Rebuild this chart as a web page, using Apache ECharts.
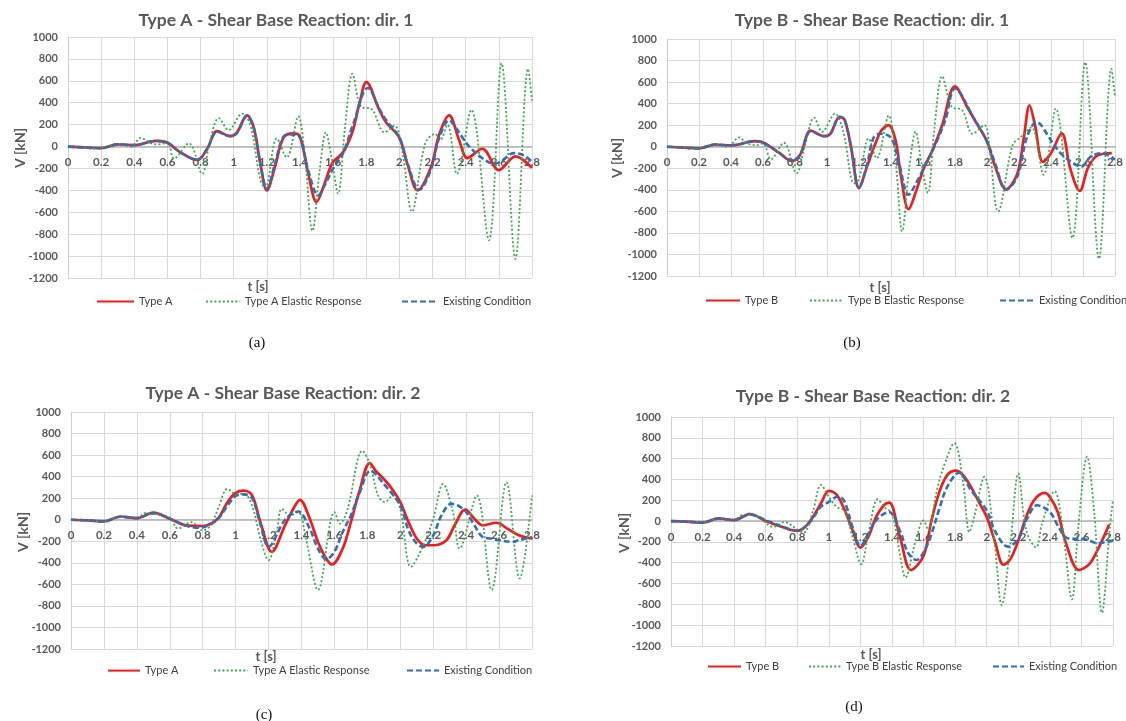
<!DOCTYPE html>
<html>
<head>
<meta charset="utf-8">
<script src="https://cdn.jsdelivr.net/npm/echarts@6/dist/echarts.min.js"></script>
<style>
html,body{margin:0;padding:0;background:#fff;}
#chart{width:1126px;height:721px;}
</style>
</head>
<body>
<div id="chart"></div>
<script>
// ---------- DATA (t [s], V [kN]) ----------
const titles = [
  'Type A - Shear Base Reaction: dir. 1',
  'Type B - Shear Base Reaction: dir. 1',
  'Type A - Shear Base Reaction: dir. 2',
  'Type B - Shear Base Reaction: dir. 2'
];
const captions = ['(a)', '(b)', '(c)', '(d)'];
const seriesNamesA = ['Type A', 'Type A Elastic Response', 'Existing Condition'];
const seriesNamesB = ['Type B', 'Type B Elastic Response', 'Existing Condition'];
const yTicks = {min: -1200, max: 1000, step: 200};
const xTicks = {min: 0, max: 2.8, step: 0.2};

const aRed = [[0,0],[0.1,-8],[0.2,-15],[0.3,20],[0.4,13],[0.53,52],[0.6,35],[0.68,-55],[0.78,-125],[0.84,-20],[0.9,140],[0.98,95],[1.02,130],[1.08,285],[1.12,180],[1.16,-150],[1.2,-400],[1.25,-180],[1.3,80],[1.36,120],[1.4,90],[1.45,-250],[1.5,-505],[1.55,-330],[1.58,-200],[1.6,-140],[1.65,-70],[1.68,0],[1.72,150],[1.76,400],[1.8,588],[1.88,330],[1.92,220],[2.0,80],[2.05,-170],[2.11,-400],[2.19,-190],[2.24,110],[2.3,285],[2.36,60],[2.41,-105],[2.5,-20],[2.6,-215],[2.7,-90],[2.8,-195]];
const aGreen = [[0,0],[0.08,-5],[0.15,-20],[0.22,-5],[0.3,25],[0.38,0],[0.44,80],[0.5,30],[0.55,20],[0.6,40],[0.64,-110],[0.73,30],[0.81,-250],[0.85,0],[0.91,260],[0.97,150],[1.05,300],[1.1,200],[1.16,-300],[1.19,-380],[1.26,75],[1.32,-100],[1.39,275],[1.43,-100],[1.475,-770],[1.52,-200],[1.556,130],[1.59,-100],[1.63,-430],[1.67,150],[1.717,665],[1.77,360],[1.83,345],[1.91,130],[1.97,190],[2.02,-70],[2.075,-595],[2.155,25],[2.216,115],[2.246,60],[2.29,200],[2.347,-250],[2.434,335],[2.54,-855],[2.616,760],[2.7,-1025],[2.776,710],[2.8,420]];
const aBlue = [[0,0],[0.1,-8],[0.2,-15],[0.3,20],[0.4,13],[0.53,52],[0.6,35],[0.68,-55],[0.78,-120],[0.84,-20],[0.9,135],[0.98,95],[1.02,125],[1.08,280],[1.12,175],[1.16,-150],[1.2,-385],[1.25,-150],[1.3,90],[1.35,110],[1.4,80],[1.45,-220],[1.51,-445],[1.56,-320],[1.6,-200],[1.66,-60],[1.72,200],[1.81,535],[1.88,340],[1.92,240],[2.0,80],[2.05,-160],[2.12,-395],[2.19,-210],[2.24,80],[2.3,240],[2.35,150],[2.41,20],[2.49,-95],[2.57,-155],[2.61,-140],[2.69,-60],[2.75,-80],[2.8,-140]];

const bRed = [[0,0],[0.1,-8],[0.2,-15],[0.3,20],[0.4,12],[0.55,52],[0.6,40],[0.7,-55],[0.78,-132],[0.83,-80],[0.9,150],[0.98,98],[1.02,120],[1.08,277],[1.11,250],[1.15,0],[1.2,-385],[1.25,-185],[1.3,20],[1.34,150],[1.385,200],[1.43,50],[1.46,-250],[1.51,-580],[1.56,-400],[1.6,-220],[1.66,-30],[1.72,200],[1.8,560],[1.88,360],[1.93,230],[2.0,50],[2.05,-180],[2.12,-395],[2.19,-250],[2.23,80],[2.266,385],[2.3,200],[2.35,-140],[2.4,-60],[2.467,125],[2.52,-200],[2.58,-410],[2.63,-200],[2.68,-90],[2.73,-65],[2.78,-60]];
const bGreen = [[0,0],[0.08,-5],[0.15,-20],[0.22,-5],[0.3,22],[0.38,0],[0.45,86],[0.5,30],[0.56,15],[0.6,30],[0.65,-117],[0.73,37],[0.81,-246],[0.86,0],[0.92,270],[0.97,138],[1.05,307],[1.1,154],[1.17,-338],[1.2,-300],[1.26,77],[1.31,-108],[1.386,290],[1.43,-150],[1.47,-785],[1.51,-250],[1.554,140],[1.59,-150],[1.63,-430],[1.67,150],[1.72,655],[1.78,370],[1.845,340],[1.91,120],[1.985,200],[2.015,0],[2.07,-600],[2.16,15],[2.21,90],[2.278,180],[2.354,-260],[2.43,354],[2.534,-846],[2.614,785],[2.7,-1040],[2.778,723],[2.8,460]];
const bBlue = [[0,0],[0.1,-8],[0.2,-15],[0.3,20],[0.4,12],[0.55,50],[0.6,40],[0.7,-55],[0.78,-128],[0.83,-80],[0.9,148],[0.98,98],[1.02,118],[1.08,275],[1.11,250],[1.15,0],[1.2,-380],[1.25,-170],[1.29,80],[1.33,120],[1.4,85],[1.45,-150],[1.51,-445],[1.57,-300],[1.62,-150],[1.68,30],[1.74,250],[1.8,540],[1.92,260],[2.0,50],[2.05,-150],[2.12,-400],[2.19,-275],[2.25,90],[2.31,230],[2.4,60],[2.46,-60],[2.54,-155],[2.59,-185],[2.65,-90],[2.72,-60],[2.8,-120]];

const cRed = [[0,0],[0.1,-6],[0.2,-15],[0.3,30],[0.4,15],[0.5,65],[0.6,9],[0.7,-52],[0.8,-58],[0.85,-37],[0.9,25],[0.95,163],[1.0,250],[1.05,270],[1.1,225],[1.15,-20],[1.22,-298],[1.3,-52],[1.35,100],[1.39,185],[1.45,9],[1.5,-206],[1.55,-360],[1.585,-415],[1.65,-268],[1.7,-22],[1.75,255],[1.815,526],[1.85,455],[1.9,378],[1.95,286],[2.0,163],[2.05,-22],[2.1,-175],[2.15,-237],[2.2,-237],[2.28,-190],[2.33,-52],[2.395,95],[2.45,9],[2.5,-52],[2.585,-28],[2.65,-83],[2.72,-145],[2.8,-175]];
const cGreen = [[0,0],[0.1,-5],[0.2,-15],[0.3,28],[0.4,12],[0.45,60],[0.5,55],[0.6,20],[0.65,-83],[0.73,-22],[0.8,-98],[0.85,-52],[0.9,132],[0.95,286],[1.0,240],[1.05,240],[1.1,132],[1.15,-175],[1.2,-375],[1.25,-114],[1.28,101],[1.33,40],[1.38,70],[1.43,-200],[1.5,-652],[1.6,71],[1.635,-37],[1.68,100],[1.77,640],[1.815,517],[1.865,225],[1.905,163],[1.955,225],[2.0,101],[2.065,-437],[2.14,-237],[2.2,9],[2.26,332],[2.32,71],[2.36,-268],[2.465,225],[2.555,-652],[2.645,348],[2.725,-545],[2.8,225]];
const cBlue = [[0,0],[0.1,-6],[0.2,-15],[0.3,28],[0.4,15],[0.5,60],[0.6,9],[0.7,-55],[0.78,-75],[0.85,-40],[0.9,20],[0.95,130],[1.0,220],[1.05,235],[1.1,200],[1.15,-40],[1.2,-250],[1.3,0],[1.38,77],[1.45,-83],[1.5,-268],[1.55,-366],[1.6,-298],[1.65,-114],[1.7,40],[1.75,240],[1.82,455],[1.9,332],[2.0,132],[2.05,-98],[2.1,-221],[2.14,-252],[2.2,-145],[2.25,40],[2.31,148],[2.35,132],[2.4,71],[2.45,-52],[2.5,-160],[2.55,-175],[2.6,-190],[2.68,-206],[2.72,-190],[2.8,-160]];

const dRed = [[0,0],[0.1,-5],[0.2,-16],[0.3,26],[0.4,10],[0.5,68],[0.6,0],[0.7,-55],[0.8,-94],[0.85,-55],[0.9,42],[0.95,171],[1.0,290],[1.05,252],[1.1,106],[1.15,-87],[1.2,-255],[1.25,-152],[1.3,42],[1.35,155],[1.383,177],[1.45,-150],[1.52,-470],[1.6,-332],[1.65,6],[1.7,281],[1.75,442],[1.805,484],[1.85,442],[1.9,329],[1.95,184],[2.0,39],[2.05,-187],[2.107,-419],[2.15,-365],[2.2,-187],[2.25,39],[2.3,200],[2.366,271],[2.4,232],[2.45,87],[2.5,-203],[2.585,-471],[2.65,-413],[2.7,-284],[2.75,-123],[2.775,-32]];
const dGreen = [[0,0],[0.1,-5],[0.2,-15],[0.3,25],[0.4,10],[0.45,58],[0.5,60],[0.55,40],[0.65,-55],[0.72,-10],[0.8,-80],[0.84,-110],[0.9,100],[0.95,348],[1.0,232],[1.05,135],[1.08,119],[1.1,100],[1.15,-150],[1.205,-413],[1.25,-123],[1.31,210],[1.35,135],[1.4,71],[1.45,-316],[1.485,-542],[1.55,-187],[1.6,6],[1.63,-90],[1.68,265],[1.72,490],[1.795,748],[1.85,377],[1.89,-106],[1.92,39],[1.985,426],[2.05,-219],[2.095,-806],[2.15,-219],[2.2,458],[2.25,-90],[2.313,-252],[2.35,-26],[2.43,287],[2.48,-58],[2.54,-752],[2.58,-58],[2.636,619],[2.68,103],[2.73,-881],[2.78,-58],[2.8,206]];
const dBlue = [[0,0],[0.1,-5],[0.2,-16],[0.3,22],[0.4,10],[0.5,62],[0.6,10],[0.7,-50],[0.8,-90],[0.85,-55],[0.9,30],[0.95,139],[1.0,184],[1.06,239],[1.1,184],[1.15,-58],[1.2,-240],[1.25,-120],[1.3,10],[1.38,87],[1.45,-90],[1.5,-300],[1.555,-374],[1.6,-300],[1.65,-123],[1.7,119],[1.75,329],[1.825,465],[1.9,297],[2.0,103],[2.05,-90],[2.135,-245],[2.2,-171],[2.25,6],[2.32,152],[2.4,87],[2.45,-42],[2.5,-155],[2.55,-171],[2.6,-171],[2.65,-187],[2.7,-213],[2.75,-203],[2.8,-187]];

const panelData = [
  {names: seriesNamesA, lines: [aRed, aGreen, aBlue]},
  {names: seriesNamesB, lines: [bRed, bGreen, bBlue]},
  {names: seriesNamesA, lines: [cRed, cGreen, cBlue]},
  {names: seriesNamesB, lines: [dRed, dGreen, dBlue]}
];

// ---------- LAYOUT / STYLE ----------
const FONT = 'Lato, "Open Sans", sans-serif';
const GRAY = '#595959';
const layout = [
  {grid:{left:68, top:37, width:464, height:241}, title:[276,20], vname:[20,148], tname:[258,287], cap:[257,343], leg:{y:303, items:[[96,138],[205,244],[401,442]]}},
  {grid:{left:667, top:39, width:455, height:237}, title:[872,20], vname:[617,158], tname:[880,288], cap:[852,343], leg:{y:302, items:[[705,744],[809,847],[999,1038]]}},
  {grid:{left:71, top:412, width:461, height:237}, title:[283,393], vname:[23,532], tname:[266,657], cap:[264,715], leg:{y:672, items:[[107,144],[213,252],[406,443]]}},
  {grid:{left:671, top:417, width:442, height:229}, title:[873,396], vname:[624,533], tname:[871,655], cap:[854,707], leg:{y:668, items:[[707,745],[808,845],[992,1028]]}}
];
const lineStyles = [
  {color:'#f21b1b', width:2.7, type:'solid'},
  {color:'#37ad4c', width:1.8, type:[2,2.2]},
  {color:'#2e6fb7', width:2.6, type:[6,3]}
];

const grids = [], xAxes = [], yAxes = [], series = [], legends = [], graphics = [];
panelData.forEach((p, i) => {
  const L = layout[i];
  grids.push(Object.assign({containLabel:false}, L.grid));
  // place the x axis at V = 0 (as in the reference, labels sit on the zero line)
  const zeroOffset = -L.grid.height * (0 - yTicks.min) / (yTicks.max - yTicks.min);
  xAxes.push({
    type:'value', gridIndex:i, min:xTicks.min, max:xTicks.max, interval:xTicks.step,
    position:'bottom', offset: zeroOffset,
    axisLine:{show:true, onZero:false, lineStyle:{color:'#b3b3b3', width:1.5}},
    axisTick:{show:false},
    axisLabel:{color:GRAY, fontFamily:FONT, fontWeight:'bold', fontSize:11.5, margin:10,
      formatter: v => String(+v.toFixed(1))},
    splitLine:{show:true, lineStyle:{color:'#d9d9d9', width:1}}
  });
  yAxes.push({
    type:'value', gridIndex:i, min:yTicks.min, max:yTicks.max, interval:yTicks.step,
    axisLine:{show:true, onZero:false, lineStyle:{color:'#d0d0d0', width:1}},
    axisTick:{show:false},
    axisLabel:{color:GRAY, fontFamily:FONT, fontWeight:'bold', fontSize:11, margin:10,
      formatter: v => String(Math.round(v))},
    splitLine:{show:true, lineStyle:{color:'#d9d9d9', width:1}}
  });
  p.lines.forEach((d, k) => {
    series.push({
      type:'line', name:p.names[k], xAxisIndex:i, yAxisIndex:i, data:d,
      smooth:0.35, symbol:'none', showSymbol:false, z: 2 + k,
      lineStyle: Object.assign({}, lineStyles[k]),
      itemStyle:{color: lineStyles[k].color},
      animation:false
    });
    const it = L.leg.items[k];
    legends.push({
      data:[p.names[k]], left: it[0], top: L.leg.y - 7, itemWidth: it[1] - it[0] - 5, itemHeight: 14,
      selectedMode:false, padding:0, itemGap:0,
      itemStyle:{opacity:0},
      textStyle:{color:'#404040', fontFamily:FONT, fontSize:11}
    });
  });
  graphics.push({type:'text', x:L.title[0], y:L.title[1], style:{text:titles[i], fill:GRAY, font:'bold 17.5px ' + FONT, align:'center', verticalAlign:'middle'}});
  graphics.push({type:'text', x:L.vname[0], y:L.vname[1], rotation:Math.PI/2, style:{text:'V [kN]', fill:GRAY, font:'bold 14px ' + FONT, align:'center', verticalAlign:'middle'}});
  graphics.push({type:'text', x:L.tname[0], y:L.tname[1], style:{text:'t [s]', fill:GRAY, font:'bold 13px ' + FONT, align:'center', verticalAlign:'middle'}});
  graphics.push({type:'text', x:L.cap[0], y:L.cap[1], style:{text:captions[i], fill:'#111', font:'15px "Liberation Serif", serif', align:'center', verticalAlign:'middle'}});
});

const chart = echarts.init(document.getElementById('chart'), null, {renderer:'canvas'});
chart.setOption({
  backgroundColor:'#ffffff',
  animation:false,
  grid:grids, xAxis:xAxes, yAxis:yAxes, series:series, legend:legends, graphic:graphics
});
</script>
</body>
</html>
